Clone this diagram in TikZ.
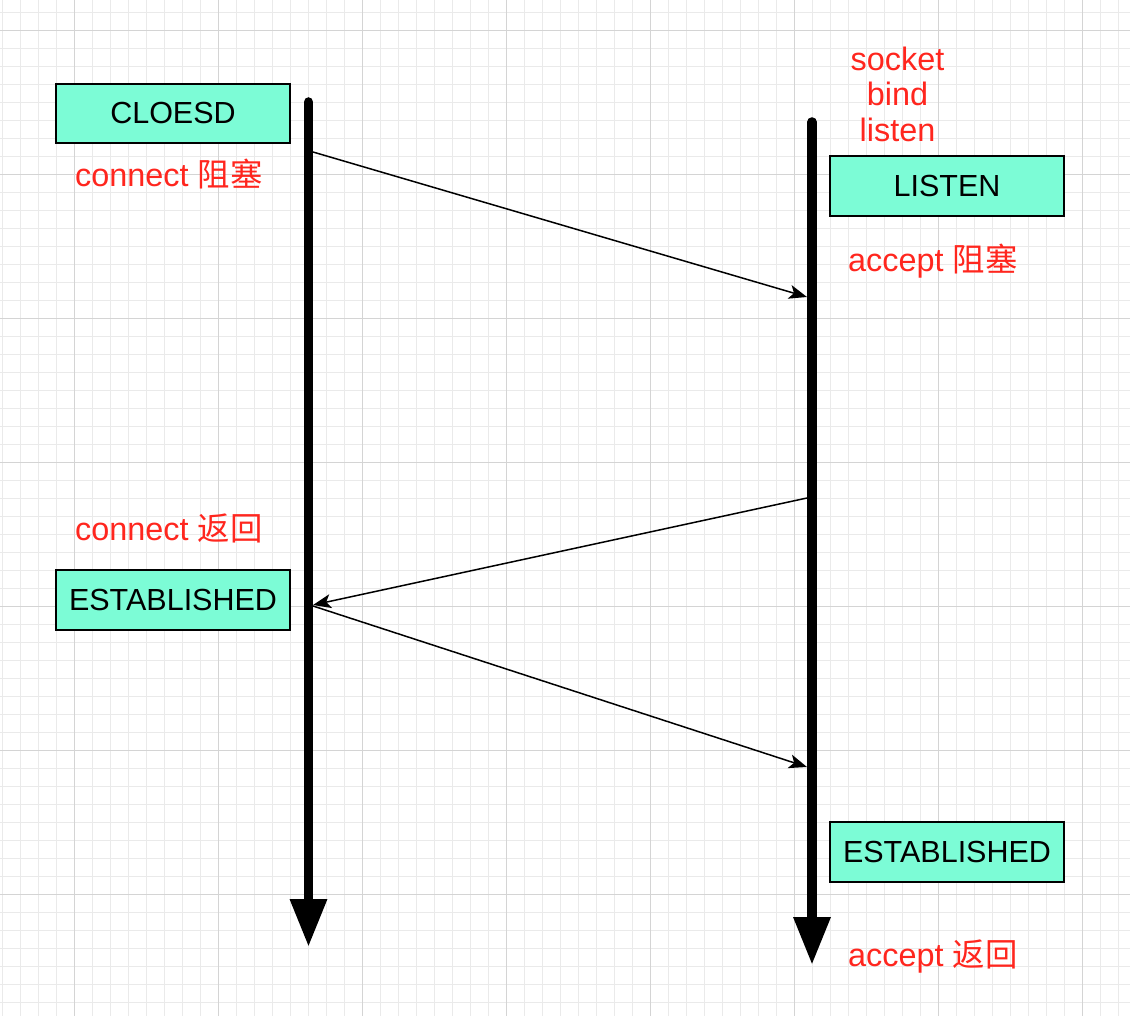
\documentclass[tikz,border=0pt]{standalone}
\usepackage{fontspec}
\setmainfont{Liberation Sans}
\newfontfamily\cjk{Noto Sans CJK SC}
\usetikzlibrary{arrows.meta}
\definecolor{gridminor}{RGB}{234,234,234}
\definecolor{gridmajor}{RGB}{212,212,212}
\definecolor{boxfill}{RGB}{124,252,214}
\definecolor{labelred}{RGB}{255,38,30}
\tikzset{
  statebox/.style={draw=black, line width=1.8pt, fill=boxfill, minimum width=234pt, minimum height=59.5pt, inner sep=0pt, font=\fontsize{30.5}{36}\selectfont},
  redlabel/.style={text=labelred, inner sep=0pt, anchor=base west, font=\fontsize{32.4}{38}\selectfont},
  redstack/.style={text=labelred, inner sep=0pt, anchor=base, font=\fontsize{32.4}{38}\selectfont},
  lifeline/.style={line width=9.5pt, line cap=round, -{Triangle[length=48pt,width=35pt]}},
  msg/.style={line width=1.5pt, -{Stealth[length=18pt,width=14pt,inset=4.5pt]}},
  minorline/.style={gridminor, line width=1pt},
  majorline/.style={gridmajor, line width=1pt}
}
\begin{document}
\begin{tikzpicture}[x=1pt,y=-1pt]
\useasboundingbox (0,0) rectangle (1130,1016);
\fill[white] (0,0) rectangle (1130,1016);
% grid
\foreach \i in {0,...,62} {\draw[minorline] ({2+18*\i},0) -- ({2+18*\i},1016);}
\foreach \i in {0,...,56} {\draw[minorline] (0,{12.7+18*\i}) -- (1130,{12.7+18*\i});}
\foreach \i in {0,...,7} {\draw[majorline] ({74+144*\i},0) -- ({74+144*\i},1016);}
\foreach \i in {0,...,6} {\draw[majorline] (0,{30.7+144*\i}) -- (1130,{30.7+144*\i});}

% lifelines
\coordinate (Ltop) at (308.5,102);
\coordinate (Lend) at (308.5,947);
\coordinate (Rtop) at (812,122);
\coordinate (Rend) at (812,965);
\draw[lifeline] (Ltop) -- (Lend);
\draw[lifeline] (Rtop) -- (Rend);

% state boxes
\node[statebox] (closed) at (173,113.5) {CLOESD};
\node[statebox] (listen) at (947,186) {LISTEN};
\node[statebox] (estL) at (173,600) {ESTABLISHED};
\node[statebox] (estR) at (947,852) {ESTABLISHED};

% red labels
\node[redlabel] (conblock) at (75,186.5) {connect {\cjk 阻塞}};
\node[redlabel] (conret) at (75,540) {connect {\cjk 返回}};
\node[redstack] (socket) at (897.5,70.5) {socket};
\node[redstack] (bind) at (897.5,106) {bind};
\node[redstack] (listenlbl) at (897.5,141.5) {listen};
\node[redlabel] (accblock) at (848,271.5) {accept {\cjk 阻塞}};
\node[redlabel] (accret) at (848,966.5) {accept {\cjk 返回}};

% messages
\coordinate (m1s) at (313,152);
\coordinate (m1e) at (807,297);
\coordinate (m2s) at (807,498);
\coordinate (m2e) at (313,605);
\coordinate (m3s) at (313,606);
\coordinate (m3e) at (807,767);
\draw[msg] (m1s) -- (m1e);
\draw[msg] (m2s) -- (m2e);
\draw[msg] (m3s) -- (m3e);
\end{tikzpicture}
\end{document}
